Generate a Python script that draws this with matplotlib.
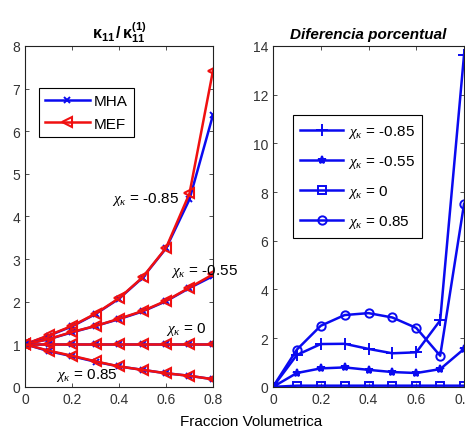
import matplotlib
matplotlib.use("Agg")
import matplotlib.pyplot as plt

plt.rcParams["font.family"] = ["Liberation Sans", "DejaVu Sans"]
plt.rcParams["mathtext.fontset"] = "custom"
plt.rcParams["mathtext.rm"] = "Liberation Serif"
plt.rcParams["mathtext.it"] = "Liberation Serif:italic"
plt.rcParams["mathtext.bf"] = "Liberation Sans:bold"

# volume fraction samples
frac = [0.0, 0.1, 0.2, 0.3, 0.4, 0.5, 0.6, 0.7, 0.8]

# kappa_11 / kappa_11^(1), homogenisation (MHA) and finite elements (MEF)
mha_m085 = [1.0, 1.20, 1.42, 1.71, 2.07, 2.56, 3.25, 4.40, 6.38]
mef_m085 = [1.0, 1.21, 1.43, 1.72, 2.08, 2.57, 3.26, 4.54, 7.42]
mha_m055 = [1.0, 1.12, 1.28, 1.43, 1.59, 1.77, 2.01, 2.32, 2.60]
mef_m055 = [1.0, 1.12, 1.29, 1.43, 1.60, 1.78, 2.02, 2.33, 2.64]
mha_0 = [1.0, 1.0, 1.0, 1.0, 1.0, 1.0, 1.0, 1.0, 1.0]
mef_0 = [1.0, 1.0, 1.0, 1.0, 1.0, 1.0, 1.0, 1.0, 1.0]
mha_p085 = [1.0, 0.84, 0.72, 0.59, 0.48, 0.40, 0.32, 0.26, 0.18]
mef_p085 = [1.0, 0.85, 0.73, 0.60, 0.48, 0.40, 0.32, 0.26, 0.18]

# percentage difference between both methods
dif_m085 = [0.0, 1.31, 1.76, 1.77, 1.56, 1.38, 1.42, 2.73, 13.65]
dif_m055 = [0.0, 0.57, 0.76, 0.80, 0.70, 0.61, 0.57, 0.73, 1.56]
dif_0 = [0.0, 0.05, 0.05, 0.05, 0.05, 0.05, 0.05, 0.05, 0.05]
dif_p085 = [0.0, 1.53, 2.51, 2.95, 3.03, 2.85, 2.42, 1.28, 7.52]

chi_labels = ["-0.85", "-0.55", "0", "0.85"]
blue = "#0a0af0"
red = "#f01010"

fig = plt.figure(figsize=(4.65, 4.31), dpi=100)
ax1 = fig.add_axes([0.054, 0.100, 0.404, 0.791])
ax2 = fig.add_axes([0.587, 0.100, 0.411, 0.791])

pairs = [(mha_m085, mef_m085), (mha_m055, mef_m055), (mha_0, mef_0), (mha_p085, mef_p085)]
for i, (mha, mef) in enumerate(pairs):
    ax1.plot(frac, mha, color=blue, lw=1.8, marker="x", ms=4, mew=1.4,
             label="MHA" if i == 0 else None)
    ax1.plot(frac, mef, color=red, lw=1.8, marker="<", ms=7, mfc="none", mew=1.5,
             label="MEF" if i == 0 else None)

ann = [(0.37, 4.42, chi_labels[0]), (0.62, 2.72, chi_labels[1]),
       (0.60, 1.38, chi_labels[2]), (0.13, 0.30, chi_labels[3])]
for x, y, s in ann:
    ax1.text(x, y, r"$\chi_\kappa$ = " + s, fontsize=11, va="center", clip_on=False)

ax1.set_xlim(0, 0.8)
ax1.set_ylim(0, 8)
ax1.set_xticks([0, 0.2, 0.4, 0.6, 0.8])
ax1.set_xticklabels(["0", "0.2", "0.4", "0.6", "0.8"])
ax1.set_yticks(range(0, 9))
ax1.set_title(r"$\mathbf{\kappa_{11}\,/\,\kappa_{11}^{(1)}}$", fontsize=11.5, pad=6)
leg1 = ax1.legend(loc="upper left", bbox_to_anchor=(0.05, 0.89), fontsize=11,
                  fancybox=False, edgecolor="black", framealpha=1,
                  handlelength=2.9, handletextpad=0.3, borderpad=0.4,
                  labelspacing=0.55, borderaxespad=0.3)
leg1.get_frame().set_linewidth(0.8)

series = [(dif_m085, "+", 8, blue), (dif_m055, "*", 6, blue),
          (dif_0, "s", 6, "none"), (dif_p085, "o", 6, "none")]
for (vals, mk, ms, fc), lab in zip(series, chi_labels):
    ax2.plot(frac, vals, color=blue, lw=1.8, marker=mk, ms=ms, mfc=fc, mew=1.4,
             label=r"$\chi_\kappa$ = " + lab)

ax2.set_xlim(0, 0.8)
ax2.set_ylim(0, 14)
ax2.set_xticks([0, 0.2, 0.4, 0.6, 0.8])
ax2.set_xticklabels(["0", "0.2", "0.4", "0.6", "0.8"])
ax2.set_yticks(range(0, 15, 2))
ax2.set_title("Diferencia porcentual", fontsize=11, fontweight="bold",
              fontstyle="italic", pad=6)
leg2 = ax2.legend(loc="upper left", bbox_to_anchor=(0.08, 0.81), fontsize=11,
                  fancybox=False, edgecolor="black", framealpha=1,
                  handlelength=2.8, handletextpad=0.3, borderpad=0.5,
                  labelspacing=0.85, borderaxespad=0.3)
leg2.get_frame().set_linewidth(0.8)

for ax in (ax1, ax2):
    ax.tick_params(direction="in", top=True, right=True, labelsize=10,
                   length=3, width=0.6, colors="#333333")
    for sp in ax.spines.values():
        sp.set_linewidth(0.8)
        sp.set_color("#222222")

fig.text(0.54, 0.012, "Fraccion Volumetrica", ha="center", va="baseline", fontsize=11)

fig.savefig("out.png", dpi=100)
